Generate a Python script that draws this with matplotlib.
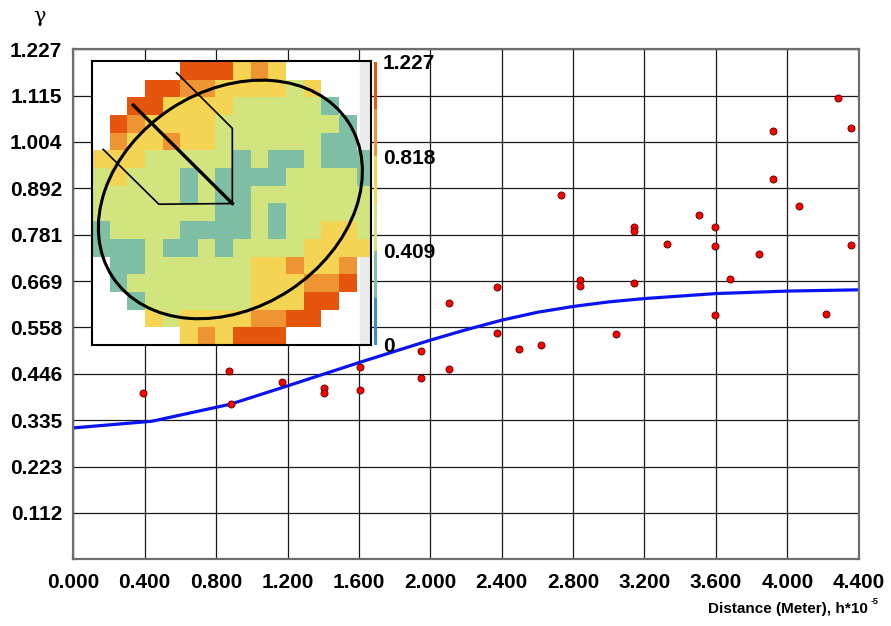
import numpy as np
import matplotlib
matplotlib.use("Agg")
import matplotlib.pyplot as plt
from matplotlib.colors import ListedColormap, BoundaryNorm
from matplotlib.patches import Ellipse, Rectangle
import matplotlib.colorbar as mcolorbar

# experimental semivariogram
lag = [0.392, 0.874, 0.882, 1.170, 1.403, 1.403, 1.607, 1.607, 1.946, 1.946,
       2.102, 2.102, 2.372, 2.372, 2.499, 2.618, 2.730, 2.841, 2.841, 3.042,
       3.143, 3.143, 3.143, 3.328, 3.505, 3.595, 3.595, 3.593, 3.677, 3.841,
       3.918, 3.921, 4.066, 4.217, 4.284, 4.358, 4.358]
gamma = [0.401, 0.454, 0.373, 0.426, 0.411, 0.401, 0.462, 0.407, 0.502, 0.435,
         0.617, 0.457, 0.654, 0.543, 0.506, 0.515, 0.877, 0.671, 0.656, 0.542,
         0.800, 0.790, 0.664, 0.758, 0.828, 0.799, 0.754, 0.587, 0.675, 0.735,
         1.029, 0.914, 0.849, 0.589, 1.109, 1.038, 0.755]

# fitted model
model_lag = [0.00, 0.44, 0.88, 1.20, 1.60, 2.00, 2.20, 2.40, 2.60, 2.80,
             3.00, 3.20, 3.60, 4.00, 4.40]
model_gamma = [0.316, 0.332, 0.373, 0.417, 0.473, 0.527, 0.552, 0.575, 0.594, 0.608,
               0.619, 0.627, 0.639, 0.645, 0.648]

xtick_labels = ["0.000", "0.400", "0.800", "1.200", "1.600", "2.000",
                "2.400", "2.800", "3.200", "3.600", "4.000", "4.400"]
ytick_labels = ["0.112", "0.223", "0.335", "0.446", "0.558", "0.669",
                "0.781", "0.892", "1.004", "1.115", "1.227"]

# inset map: class of each cell (W = no data)
map_rows = [
    "WWWWWRRRYOYWWWWW",
    "WWWRROOYYYYGYWWW",
    "WWRRYYYYGGGGGTWW",
    "WROYYYYGGGGGGGTW",
    "WOYYOYYGGGGGGTTW",
    "YYYGGGGGTGTTGTTT",
    "GYGGGTGTTTTGGGGT",
    "GGGGGTGTTGGGGGGG",
    "GGGGGGGTTGTGGGGG",
    "TGGGGTTTTGTGGYYG",
    "TTTGTTGTGGGGYYYY",
    "WTTGGGGGGYYOYYOW",
    "WTGGGGGGGYYYOORW",
    "WWTGGGGGGYYYRRWW",
    "WWWYGYYYYOORRWWW",
    "WWWWWYOYRRRWWWWW",
]
class_codes = ["B", "T", "G", "Y", "O", "R"]
class_colors = ["#3b8bd0", "#7fbfa5", "#d2e47e", "#f6d453", "#ef9432", "#e5550e"]
cbar_ticks = [0, 0.409, 0.818, 1.227]
cbar_labels = ["0", "0.409", "0.818", "1.227"]

plt.rcParams['font.family'] = ['Liberation Sans', 'DejaVu Sans']
plt.rcParams['font.weight'] = 'bold'

fig = plt.figure(figsize=(8.91, 6.26), dpi=100)
ax = fig.add_axes([0.0823, 0.1065, 0.8814, 0.8152])

ax.plot(model_lag, model_gamma, color='#0a14f0', lw=2.3, zorder=2)
ax.scatter(lag, gamma, s=26, color='#ff0000', edgecolors='#500000',
           linewidths=0.6, zorder=3)

ax.set_xlim(0, 4.4)
ax.set_ylim(0, 1.227)
ax.set_xticks([float(t) for t in xtick_labels])
ax.set_xticklabels(xtick_labels)
ax.set_yticks([float(t) for t in ytick_labels])
ax.set_yticklabels(ytick_labels)
ax.tick_params(length=0, labelsize=15)
ax.tick_params(axis='x', pad=10)
ax.tick_params(axis='y', pad=8)
ax.grid(True, color='#1a1a1a', lw=0.9)
for s in ax.spines.values():
    s.set_color('#6e6e6e')
    s.set_linewidth(1.6)

fig.text(40 / 891, 1 - 16 / 626, "γ", family='DejaVu Serif',
         fontweight='normal', fontsize=15, ha='center', va='center')
fig.text(868 / 891, 1 - 609 / 626, "Distance (Meter), h*10",
         fontsize=11, ha='right', va='center')
fig.text(871 / 891, 1 - 601 / 626, "-5", fontsize=6.5, ha='left', va='center')

# inset map
axin = fig.add_axes([0.1029, 0.4489, 0.3135, 0.4537])
axin.set_facecolor('white')
idx = {c: i for i, c in enumerate(class_codes)}
grid = np.array([[idx.get(ch, np.nan) for ch in row] for row in map_rows], dtype=float)
cmap = ListedColormap(class_colors)
axin.add_patch(Rectangle((15.2, -0.2), 0.7, 16.4, color='#ebebeb', zorder=0))
axin.imshow(grid, cmap=cmap, vmin=-0.5, vmax=5.5, extent=(0, 16, 16, 0),
            interpolation='nearest', aspect='auto', zorder=1)
axin.add_patch(Ellipse((7.84, 7.75), 16.0, 12.3, angle=-33.3, fill=False,
                       ec='black', lw=2.2, zorder=3))
axin.plot([4.79, 7.95, 7.95], [0.57, 3.72, 7.98], color='black', lw=1.2, zorder=3)
axin.plot([0.62, 3.78, 7.95], [4.91, 8.02, 7.98], color='black', lw=1.2, zorder=3)
axin.plot([2.33, 7.95], [2.40, 7.98], color='black', lw=2.4, zorder=3)
axin.set_xlim(-0.03, 15.82)
axin.set_ylim(16.0, -0.1)
axin.set_xticks([])
axin.set_yticks([])
for s in axin.spines.values():
    s.set_color('black')
    s.set_linewidth(1.5)

# colour bar
cax = fig.add_axes([0.4198, 0.4489, 0.0034, 0.4526])
cb = mcolorbar.ColorbarBase(cax, cmap=cmap,
                            norm=BoundaryNorm(np.linspace(0, 1.227, 7), 6),
                            orientation='vertical')
cb.outline.set_visible(False)
cb.set_ticks(cbar_ticks)
cb.set_ticklabels(cbar_labels)
cax.minorticks_off()
cax.tick_params(which='both', length=0, pad=4, labelsize=15)

fig.savefig("out.png", dpi=100)
